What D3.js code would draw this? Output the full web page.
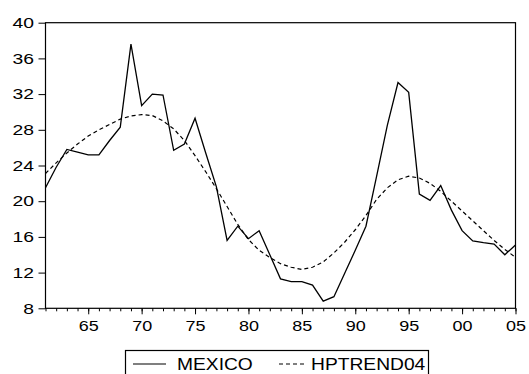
<!DOCTYPE html>
<html>
<head>
<meta charset="utf-8">
<script src="https://cdn.jsdelivr.net/npm/d3@7"></script>
<style>
  html, body { margin: 0; padding: 0; background: #fff; }
  svg { display: block; font-family: "Liberation Sans", Arial, sans-serif; }
</style>
</head>
<body>
<figure id="chart" style="margin:0"></figure>
<script>
// yearly values, 1961 - 2005
const years = d3.range(1961, 2006);
const mexico = [
  21.5, 23.8, 25.8, 25.5, 25.2, 25.2, 26.8, 28.3, 37.6, 30.7,
  32.0, 31.9, 25.7, 26.4, 29.3, 25.4, 21.6, 15.6, 17.2, 15.8,
  16.7, 14.0, 11.3, 11.0, 11.0, 10.6, 8.8, 9.3, 11.9, 14.5,
  17.2, 22.8, 28.5, 33.3, 32.2, 20.8, 20.1, 21.75, 19.0, 16.7,
  15.55, 15.35, 15.2, 14.0, 15.1
];
const hptrend = [
  23.1, 24.3, 25.4, 26.4, 27.3, 28.0, 28.6, 29.2, 29.55, 29.7,
  29.6, 29.0, 28.1, 26.8, 25.1, 23.3, 21.4, 19.4, 17.4, 15.7,
  14.5, 13.7, 13.0, 12.6, 12.35, 12.6, 13.2, 14.2, 15.4, 16.8,
  18.4, 20.2, 21.5, 22.4, 22.8, 22.6, 22.0, 21.1, 20.0, 18.9,
  17.8, 16.7, 15.6, 14.6, 13.7
];
const yTicks = [8, 12, 16, 20, 24, 28, 32, 36, 40];
const xMajor = [1965, 1970, 1975, 1980, 1985, 1990, 1995, 2000, 2005];
const xTickLabels = ["65", "70", "75", "80", "85", "90", "95", "00", "05"];
const seriesNames = ["MEXICO", "HPTREND04"];

const width = 529, height = 374;
const plotLeft = 45.5, plotRight = 515.5, plotTop = 22.7, plotBottom = 308.3;

const svg = d3.select("figure#chart")
  .append("svg")
  .attr("width", width)
  .attr("height", height);

const x = d3.scaleLinear().domain([1961, 2005]).range([plotLeft, plotRight]);
const y = d3.scaleLinear().domain([8, 40]).range([plotBottom, plotTop]);

// frame
svg.append("rect")
  .attr("x", plotLeft).attr("y", plotTop)
  .attr("width", plotRight - plotLeft).attr("height", plotBottom - plotTop)
  .attr("fill", "none").attr("stroke", "#000").attr("stroke-width", 1.2);

// y axis
const yAxis = svg.append("g")
  .attr("transform", "translate(" + plotLeft + ",0)")
  .call(d3.axisLeft(y).tickValues(yTicks).tickSize(7).tickSizeOuter(0).tickFormat(d3.format("d")));
yAxis.select(".domain").remove();
yAxis.selectAll("line").attr("stroke", "#000");
yAxis.selectAll("text")
  .attr("x", 0)
  .attr("dy", "0.34em")
  .attr("transform", "translate(-11.5,0) scale(1.38,1)")
  .style("font-size", "14px")
  .style("font-family", "'Liberation Sans', Arial, sans-serif")
  .attr("fill", "#000");

// x axis, minor ticks every year
const xMinor = svg.append("g")
  .attr("transform", "translate(0," + plotBottom + ")")
  .call(d3.axisBottom(x).tickValues(years).tickSize(3).tickSizeOuter(0).tickFormat(""));
xMinor.select(".domain").remove();
xMinor.selectAll("line").attr("stroke", "#000");

// x axis, major ticks with labels
const xAxis = svg.append("g")
  .attr("transform", "translate(0," + plotBottom + ")")
  .call(d3.axisBottom(x).tickValues(xMajor).tickSize(6).tickSizeOuter(0)
    .tickFormat((d, i) => xTickLabels[i]));
xAxis.select(".domain").remove();
xAxis.selectAll("line").attr("stroke", "#000");
xAxis.selectAll("text")
  .attr("y", 22.8)
  .attr("dy", 0)
  .attr("transform", "scale(1.25,1)")
  .style("font-size", "14.4px")
  .style("font-family", "'Liberation Sans', Arial, sans-serif")
  .attr("fill", "#000");

// lines
const line = d3.line()
  .x((d, i) => x(years[i]))
  .y(d => y(d));

svg.append("path")
  .datum(hptrend)
  .attr("d", line)
  .attr("fill", "none")
  .attr("stroke", "#000")
  .attr("stroke-width", 1.2)
  .attr("stroke-dasharray", "4,3");

svg.append("path")
  .datum(mexico)
  .attr("d", line)
  .attr("fill", "none")
  .attr("stroke", "#000")
  .attr("stroke-width", 1.3)
  .attr("stroke-linejoin", "miter");

// legend
const legend = svg.append("g");
legend.append("rect")
  .attr("x", 125.5).attr("y", 350.5)
  .attr("width", 303).attr("height", 40)
  .attr("fill", "#fff").attr("stroke", "#000").attr("stroke-width", 1.2);

const legendItems = [
  { name: seriesNames[0], x1: 133, x2: 166, tx: 177, dash: null },
  { name: seriesNames[1], x1: 279, x2: 307, tx: 311, dash: "4,3" }
];
legendItems.forEach(it => {
  legend.append("line")
    .attr("x1", it.x1).attr("x2", it.x2)
    .attr("y1", 364).attr("y2", 364)
    .attr("stroke", "#000").attr("stroke-width", 1.2)
    .attr("stroke-dasharray", it.dash);
  legend.append("text")
    .attr("transform", "translate(" + it.tx + ",369.5) scale(1.18,1)")
    .style("font-size", "16.3px")
    .attr("fill", "#000")
    .text(it.name);
});
</script>
</body>
</html>
